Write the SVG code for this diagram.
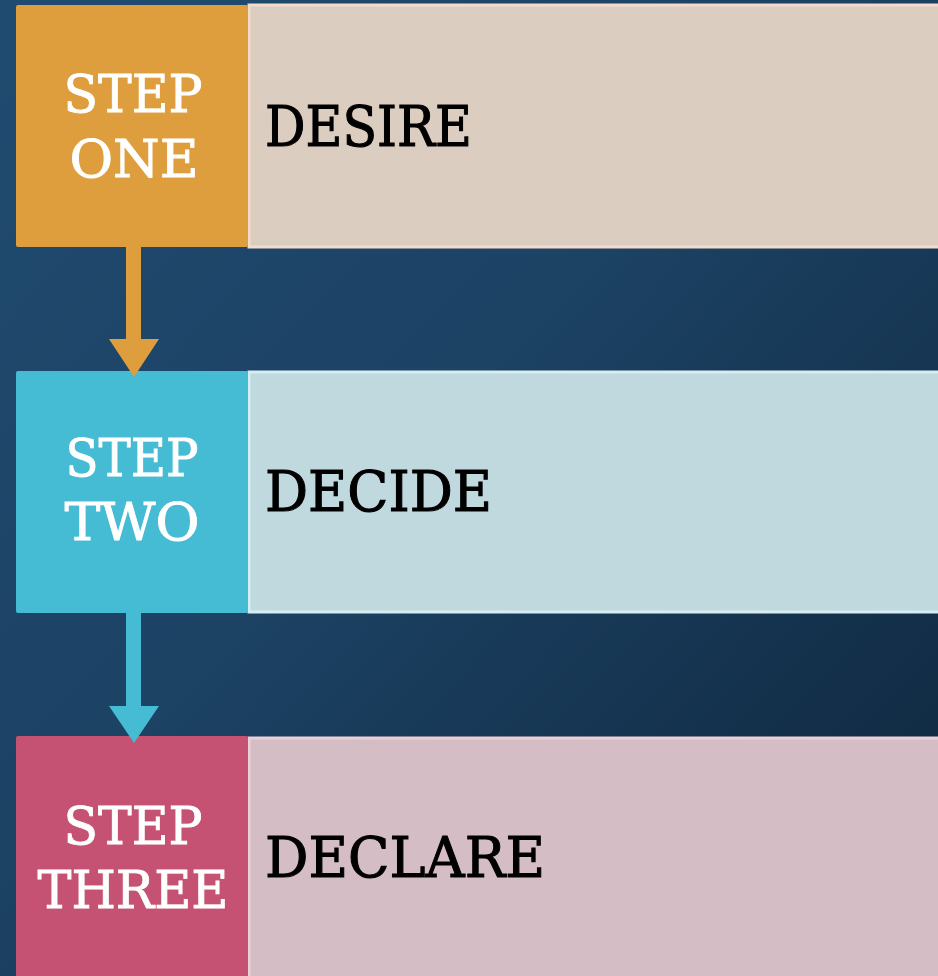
<svg xmlns="http://www.w3.org/2000/svg" width="938" height="976" viewBox="0 0 938 976">
<defs>
<linearGradient id="bg" x1="0" y1="0" x2="1" y2="1">
<stop offset="0" stop-color="#204b70"/>
<stop offset="0.45" stop-color="#1c4264"/>
<stop offset="1" stop-color="#0e253b"/>
</linearGradient>
</defs>
<style>
.step{font-family:"DejaVu Serif","Liberation Serif",serif;font-size:52px;fill:#ffffff;stroke:#ffffff;stroke-width:0.9px;text-anchor:middle}
.lbl{font-family:"DejaVu Serif","Liberation Serif",serif;font-size:56px;fill:#000000;stroke:#000000;stroke-width:1.1px}
</style>
<rect x="0" y="0" width="938" height="976" fill="url(#bg)"/>
<g id="row1">
<rect x="249" y="5" width="692" height="242" fill="#dccdc1" stroke="#f3dccc" stroke-width="3"/>
<rect x="16" y="5" width="232" height="242" rx="2" fill="#df9e3e"/>
<text class="step" x="133" y="112" textLength="139" lengthAdjust="spacingAndGlyphs">STEP</text>
<text class="step" x="134" y="177" textLength="129" lengthAdjust="spacingAndGlyphs">ONE</text>
<text class="lbl" x="265" y="146" textLength="207" lengthAdjust="spacingAndGlyphs">DESIRE</text>
</g>
<g id="row2">
<rect x="249" y="372" width="692" height="240" fill="#bfd9de" stroke="#d6eef2" stroke-width="3"/>
<rect x="16" y="371" width="232" height="242" rx="2" fill="#45bcd4"/>
<text class="step" x="132" y="476" textLength="133" lengthAdjust="spacingAndGlyphs">STEP</text>
<text class="step" x="132" y="540" textLength="135" lengthAdjust="spacingAndGlyphs">TWO</text>
<text class="lbl" x="265" y="511" textLength="227" lengthAdjust="spacingAndGlyphs">DECIDE</text>
</g>
<g id="row3">
<rect x="249" y="738" width="692" height="245" fill="#d4bdc4" stroke="#ecd0d8" stroke-width="3"/>
<rect x="16" y="736" width="232" height="245" rx="2" fill="#c55272"/>
<text class="step" x="133" y="844" textLength="139" lengthAdjust="spacingAndGlyphs">STEP</text>
<text class="step" x="133" y="908" textLength="191" lengthAdjust="spacingAndGlyphs">THREE</text>
<text class="lbl" x="265" y="877" textLength="280" lengthAdjust="spacingAndGlyphs">DECLARE</text>
</g>
<g id="connectors">
<path d="M126 246 H141 V339 H159 L134 377 L109 339 H126 Z" fill="#df9e3e"/>
<path d="M126 612 H141 V706 H159 L134 743 L109 706 H126 Z" fill="#45bcd4"/>
</g>
</svg>
